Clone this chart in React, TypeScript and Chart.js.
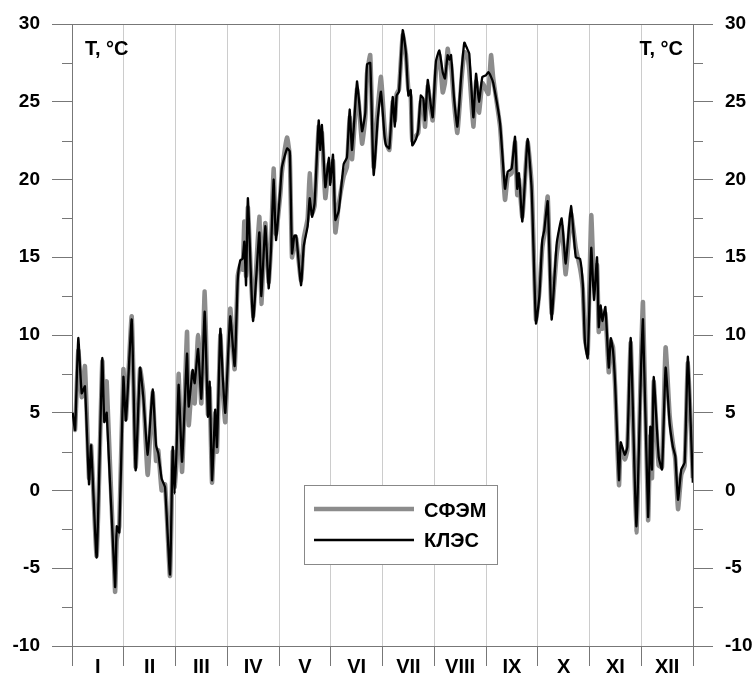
import React, { useEffect, useRef } from "react";
import { Chart, registerables } from "chart.js";

Chart.register(...registerables);

const DAYS = [
  0.4, 1.8, 3.7, 5.7, 7.6, 10.0, 11.2, 14.5, 17.8, 19.0, 20.4, 25.3, 26.3, 27.8, 30.2, 31.7, 35.1, 37.4, 40.0, 41.9,
  44.5, 47.4, 49.4, 50.7, 52.7, 54.7, 57.6, 59.2, 60.3, 61.5, 62.7, 64.7, 67.6, 68.6, 70.9, 72.1, 74.1, 76.0, 78.0, 79.9,
  80.9, 82.3, 84.2, 85.2, 87.2, 88.6, 90.1, 93.0, 95.6, 97.4, 98.9, 100.3, 101.3, 102.3, 103.4, 106.4, 110.1, 111.3, 113.6, 115.6,
  117.0, 118.5, 119.9, 122.4, 123.4, 126.4, 128.0, 129.3, 130.7, 131.8, 134.6, 136.2, 138.5, 139.7, 141.1, 142.6, 145.0, 145.9, 146.9, 148.9,
  150.9, 151.8, 153.4, 154.8, 156.8, 159.7, 161.6, 163.2, 164.6, 167.5, 168.5, 170.5, 172.4, 173.4, 175.3, 177.3, 179.7, 181.6, 183.6, 184.6,
  186.5, 188.5, 189.8, 190.8, 192.2, 194.4, 196.3, 197.7, 199.1, 200.0, 202.2, 203.5, 205.0, 206.5, 207.5, 209.1, 210.4, 212.0, 213.9, 215.9,
  217.9, 219.2, 220.8, 221.8, 222.8, 224.5, 226.5, 229.0, 230.6, 232.3, 233.5, 235.9, 237.5, 239.2, 241.2, 243.3, 244.7, 246.3, 247.6, 251.6,
  254.5, 256.1, 258.4, 260.4, 261.7, 262.7, 264.7, 267.8, 270.2, 272.7, 274.7, 276.4, 277.6, 279.6, 281.9, 284.9, 287.8, 290.2, 293.3, 296.1,
  298.6, 300.2, 301.5, 303.1, 305.2, 306.8, 308.6, 309.6, 310.7, 311.7, 313.5, 315.5, 316.7, 318.0, 319.3, 321.5, 322.5, 324.9, 326.4, 328.4,
  331.7, 334.6, 335.6, 338.6, 339.9, 340.9, 341.9, 344.8, 346.8, 348.9, 351.3, 353.2, 354.6, 356.2, 358.1, 360.1, 362.0, 364.9,
];

const KLES = [
  5.0, 3.9, 9.8, 6.25, 6.7, 0.4, 2.9, -4.3, 8.5, 4.4, 5.0, -6.2, -2.3, -2.7, 7.3, 4.5, 11.0, 1.3, 7.9, 6.0,
  2.3, 6.5, 2.9, 2.4, 0.75, 0.2, -5.4, 2.8, -0.2, 2.8, 6.8, 1.85, 8.8, 5.4, 7.75, 6.9, 9.1, 5.9, 11.5, 4.75,
  7.0, 0.65, 5.2, 2.8, 10.4, 7.3, 5.0, 11.2, 8.0, 13.5, 14.8, 14.9, 16.0, 13.2, 18.8, 10.9, 16.6, 12.5, 17.0, 13.0,
  15.6, 20.0, 16.1, 19.3, 20.8, 22.0, 21.8, 15.25, 16.4, 16.4, 13.2, 15.7, 17.0, 18.8, 17.6, 18.5, 23.8, 21.9, 23.5, 19.5,
  21.4, 19.65, 21.6, 17.4, 18.0, 21.0, 21.4, 24.5, 21.9, 26.3, 25.3, 23.1, 24.3, 27.4, 27.5, 20.3, 23.9, 25.65, 22.9, 22.2,
  22.0, 25.3, 23.4, 25.4, 25.65, 29.6, 28.1, 25.4, 25.75, 22.2, 22.6, 23.2, 25.4, 25.2, 23.8, 26.4, 25.2, 24.0, 27.6, 28.3,
  26.9, 26.5, 28.0, 27.7, 28.0, 25.3, 23.4, 27.0, 28.8, 28.4, 28.1, 24.0, 26.8, 25.0, 26.6, 26.7, 26.9, 26.6, 26.2, 23.6,
  19.4, 20.5, 20.7, 22.75, 19.4, 20.4, 17.3, 22.6, 19.3, 10.75, 12.5, 16.1, 16.75, 18.6, 11.0, 15.9, 17.5, 14.6, 18.3, 15.0,
  14.9, 13.3, 9.5, 8.5, 15.6, 12.25, 15.0, 10.5, 11.9, 10.9, 11.8, 7.9, 9.8, 9.0, 6.7, 0.67, 3.1, 2.3, 2.8, 9.8,
  -2.3, 8.4, 11.0, -1.7, 4.1, 1.35, 7.3, 2.2, 1.35, 7.9, 4.3, 2.8, 2.2, -0.6, 1.35, 1.8, 8.6, 0.5,
];

const SFEM = [
  4.8, 3.9, 9.0, 6.0, 8.0, 0.8, 2.9, -4.2, 8.3, 4.5, 7.0, -6.5, -3.2, -2.3, 7.8, 4.6, 11.2, 1.5, 7.8, 6.3,
  1.0, 6.3, 1.9, 2.6, 0.0, 0.4, -5.5, 2.5, 0.2, 2.0, 7.5, 1.2, 10.2, 4.2, 7.6, 5.6, 10.0, 5.6, 12.8, 4.9,
  6.6, 0.5, 5.0, 2.5, 10.0, 6.5, 4.4, 11.7, 7.8, 13.8, 14.5, 14.2, 17.3, 13.8, 18.2, 11.2, 17.6, 12.0, 17.2, 13.4,
  15.8, 20.7, 16.5, 19.0, 20.5, 22.7, 21.5, 15.0, 16.0, 16.2, 13.5, 16.2, 17.5, 20.4, 17.8, 18.3, 23.4, 22.0, 23.0, 18.8,
  21.0, 19.9, 21.2, 16.6, 18.4, 20.2, 20.8, 24.0, 21.3, 25.8, 25.0, 22.3, 24.0, 26.8, 28.0, 20.8, 24.5, 26.6, 23.5, 22.4,
  21.9, 25.0, 23.8, 25.5, 25.8, 29.3, 28.0, 25.8, 25.3, 22.5, 22.8, 23.0, 25.0, 25.0, 23.4, 26.0, 25.0, 23.8, 27.0, 28.0,
  25.6, 26.2, 28.4, 27.6, 27.4, 25.0, 23.0, 26.5, 28.2, 28.0, 27.0, 23.4, 26.3, 24.3, 26.2, 25.8, 25.5, 28.0, 26.5, 23.4,
  18.7, 20.2, 20.4, 22.4, 19.0, 20.0, 17.6, 22.4, 19.6, 11.0, 12.8, 15.6, 16.5, 18.9, 11.4, 15.2, 17.0, 13.9, 17.8, 15.6,
  14.3, 13.0, 9.8, 8.8, 17.7, 13.5, 14.5, 10.2, 11.6, 10.4, 11.4, 7.6, 9.6, 9.2, 6.5, 0.35, 2.8, 2.0, 2.6, 9.5,
  -2.7, 9.0, 12.1, -1.9, 3.5, 0.8, 7.0, 1.6, 1.5, 9.2, 4.8, 3.0, 2.0, -1.2, 1.0, 1.6, 8.2, 0.8,
];

const MONTHS = ["I", "II", "III", "IV", "V", "VI", "VII", "VIII", "IX", "X", "XI", "XII"];
const SERIES_NAMES = ["СФЭМ", "КЛЭС"];
const AXIS_TITLE = "T, °C";
const Y_MIN = -10;
const Y_MAX = 30;
const Y_STEP = 5;
const YEAR_DAYS = 365;

const FONT_FAMILY = '"Liberation Sans", Arial, Helvetica, sans-serif';
const AXIS_COLOR = "#777777";
const GRID_COLOR = "#cccccc";
const GRAY_LINE = "#8c8c8c";

const decorPlugin = {
  id: "decor",
  beforeDatasetsDraw(chart: any) {
    const ctx = chart.ctx;
    const area = chart.chartArea;
    const y = chart.scales.y;
    ctx.save();
    ctx.strokeStyle = AXIS_COLOR;
    ctx.lineWidth = 1;
    ctx.beginPath();
    const ty = Math.round(y.getPixelForValue(Y_MAX)) + 0.5;
    ctx.moveTo(area.left - 20, ty);
    ctx.lineTo(area.right + 20, ty);
    ctx.stroke();
    for (let v = Y_MIN + Y_STEP / 2; v < Y_MAX; v += Y_STEP) {
      const py = Math.round(y.getPixelForValue(v)) + 0.5;
      ctx.beginPath();
      ctx.moveTo(area.left - 10, py);
      ctx.lineTo(area.left, py);
      ctx.moveTo(area.right, py);
      ctx.lineTo(area.right + 10, py);
      ctx.stroke();
    }
    ctx.restore();
  },
  afterDraw(chart: any) {
    const ctx = chart.ctx;
    const area = chart.chartArea;
    const x = chart.scales.x;
    ctx.save();
    ctx.fillStyle = "#000";
    ctx.font = `bold 20px ${FONT_FAMILY}`;
    ctx.textAlign = "center";
    ctx.textBaseline = "alphabetic";
    MONTHS.forEach((m, k) => {
      const px = x.getPixelForValue(((k + 0.5) * YEAR_DAYS) / 12);
      ctx.fillText(m, px, area.bottom + 27);
    });
    ctx.font = `bold 20px ${FONT_FAMILY}`;
    ctx.textAlign = "left";
    ctx.fillText(AXIS_TITLE, area.left + 13, area.top + 31);
    ctx.textAlign = "right";
    ctx.fillText(AXIS_TITLE, area.right - 10, area.top + 31);
    const bx = 304.5, by = 485.5, bw = 193, bh = 79;
    ctx.fillStyle = "#fff";
    ctx.fillRect(bx, by, bw, bh);
    ctx.strokeStyle = "#888";
    ctx.lineWidth = 1;
    ctx.strokeRect(bx, by, bw, bh);
    ctx.lineCap = "butt";
    ctx.strokeStyle = GRAY_LINE;
    ctx.lineWidth = 4.5;
    ctx.beginPath();
    ctx.moveTo(314, 509);
    ctx.lineTo(414, 509);
    ctx.stroke();
    ctx.strokeStyle = "#000";
    ctx.lineWidth = 2.5;
    ctx.beginPath();
    ctx.moveTo(314, 540);
    ctx.lineTo(414, 540);
    ctx.stroke();
    ctx.fillStyle = "#000";
    ctx.textAlign = "left";
    ctx.font = `bold 20px ${FONT_FAMILY}`;
    ctx.fillText(SERIES_NAMES[0], 424, 517);
    ctx.fillText(SERIES_NAMES[1], 424, 547);
    ctx.restore();
  },
};

export default function App() {
  const ref = useRef<HTMLCanvasElement | null>(null);
  useEffect(() => {
    if (!ref.current) return;
    const monthBounds = Array.from({ length: 13 }, (_, k) => (k * YEAR_DAYS) / 12);
    const tickFont = { family: FONT_FAMILY, size: 19, weight: "bold" as const };
    const chart = new Chart(ref.current, {
      type: "line",
      data: {
        datasets: [
          {
            label: SERIES_NAMES[0],
            data: DAYS.map((d, i) => ({ x: d, y: SFEM[i] })),
            borderColor: GRAY_LINE,
            borderWidth: 4.5,
            pointRadius: 0,
            tension: 0.15,
            order: 2,
            yAxisID: "y",
          },
          {
            label: SERIES_NAMES[1],
            data: DAYS.map((d, i) => ({ x: d, y: KLES[i] })),
            borderColor: "#000000",
            borderWidth: 2.3,
            pointRadius: 0,
            tension: 0.15,
            order: 1,
            yAxisID: "y",
          },
        ],
      },
      options: {
        responsive: false,
        animation: false,
        devicePixelRatio: 1,
        layout: { padding: { top: 24, left: 0, right: 0, bottom: 0 } },
        plugins: { legend: { display: false }, tooltip: { enabled: false } },
        scales: {
          x: {
            type: "linear",
            min: 0,
            max: YEAR_DAYS,
            afterBuildTicks: (axis: any) => {
              axis.ticks = monthBounds.map((v) => ({ value: v }));
            },
            afterFit: (scale: any) => {
              scale.height = 29;
            },
            ticks: { display: false },
            grid: {
              display: true,
              drawOnChartArea: true,
              color: GRID_COLOR,
              tickColor: AXIS_COLOR,
              tickLength: 20,
              lineWidth: 1,
            },
            border: { display: true, color: AXIS_COLOR, width: 1 },
          },
          y: {
            type: "linear",
            position: "left",
            min: Y_MIN,
            max: Y_MAX,
            afterFit: (scale: any) => {
              scale.width = 72;
            },
            ticks: { stepSize: Y_STEP, color: "#000", font: tickFont, padding: 12 },
            grid: { drawOnChartArea: false, tickLength: 20, tickColor: AXIS_COLOR },
            border: { display: true, color: AXIS_COLOR, width: 1 },
          },
          y2: {
            type: "linear",
            position: "right",
            min: Y_MIN,
            max: Y_MAX,
            afterFit: (scale: any) => {
              scale.width = 60;
            },
            ticks: { stepSize: Y_STEP, color: "#000", font: tickFont, padding: 12 },
            grid: { drawOnChartArea: false, tickLength: 20, tickColor: AXIS_COLOR },
            border: { display: true, color: AXIS_COLOR, width: 1 },
          },
        },
      },
      plugins: [decorPlugin],
    });
    return () => chart.destroy();
  }, []);
  return (
    <canvas
      ref={ref}
      width={753}
      height={675}
      style={{ position: "fixed", left: 0, top: 0, display: "block", background: "#fff" }}
    />
  );
}
